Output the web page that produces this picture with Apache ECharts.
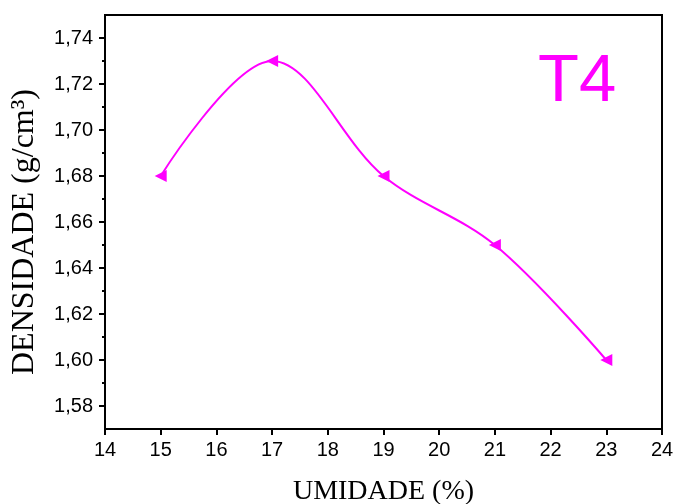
<!DOCTYPE html>
<html>
<head>
<meta charset="utf-8">
<script src="https://cdn.jsdelivr.net/npm/echarts@6/dist/echarts.min.js"></script>
<style>html,body{margin:0;padding:0;background:#fff;}#c{width:673px;height:504px;}</style>
</head>
<body>
<div id="c"></div>
<script>
var umidade = [15, 17, 19, 21, 23];
var densidade = [1.68, 1.73, 1.68, 1.65, 1.60];
var yMajorTicks = [1.58, 1.60, 1.62, 1.64, 1.66, 1.68, 1.70, 1.72, 1.74];
var yMinorTicks = [1.59, 1.61, 1.63, 1.65, 1.67, 1.69, 1.71, 1.73];
var xTitle = 'UMIDADE (%)';
var yTitle = 'DENSIDADE (g/cm³)';
var tag = 'T4';

var chart = echarts.init(document.getElementById('c'), null, {renderer: 'canvas'});
var pts = umidade.map(function (x, i) { return [x, densidade[i]]; });
chart.setOption({
  animation: false,
  backgroundColor: '#fff',
  title: {
    text: tag, left: 533, top: 44,
    textStyle: {color: '#FF00FF', fontSize: 67, fontWeight: 'normal', fontFamily: 'Liberation Sans, Arial, sans-serif'}
  },
  grid: {left: 105, top: 15, right: 11, bottom: 75, outerBoundsMode: 'none', containLabel: false,
    show: true, borderColor: '#000', borderWidth: 2, backgroundColor: 'transparent'},
  xAxis: {
    type: 'value', min: 14, max: 24, interval: 1,
    name: xTitle, nameLocation: 'middle', nameGap: 49,
    nameTextStyle: {fontFamily: 'Liberation Serif, Times New Roman, serif', fontSize: 28, color: '#000'},
    axisLine: {show: true, lineStyle: {color: '#000', width: 2}},
    axisTick: {show: true, inside: false, length: 6, lineStyle: {color: '#000', width: 2}},
    axisLabel: {margin: 11, fontSize: 20, color: '#000', fontFamily: 'Liberation Sans, Arial, sans-serif'},
    splitLine: {show: false}
  },
  yAxis: [{
    type: 'value', min: 1.57, max: 1.75,
    name: yTitle, nameLocation: 'middle', nameGap: 64, nameRotate: 90,
    nameTextStyle: {fontFamily: 'Liberation Serif, Times New Roman, serif', fontSize: 32, color: '#000', padding: [0, 20, 0, 0]},
    axisLine: {show: true, lineStyle: {color: '#000', width: 2}},
    axisTick: {show: true, inside: false, length: 6, customValues: yMajorTicks, lineStyle: {color: '#000', width: 2}},
    axisLabel: {margin: 12, fontSize: 20, color: '#000', fontFamily: 'Liberation Sans, Arial, sans-serif', customValues: yMajorTicks,
      formatter: function (v) { return v.toFixed(2).replace('.', ','); }},
    splitLine: {show: false}
  }, {
    type: 'value', min: 1.57, max: 1.75, position: 'left',
    axisLine: {show: false},
    axisTick: {show: true, inside: false, length: 3, customValues: yMinorTicks, lineStyle: {color: '#000', width: 2}},
    axisLabel: {show: false},
    splitLine: {show: false}
  }],
  series: [{
    type: 'line', data: pts, smooth: 0.35, yAxisIndex: 0,
    lineStyle: {color: '#FF00FF', width: 2},
    itemStyle: {color: '#FF00FF'},
    symbol: 'triangle', symbolRotate: 90, symbolSize: 12, showAllSymbol: true
  }]
});
</script>
</body>
</html>
